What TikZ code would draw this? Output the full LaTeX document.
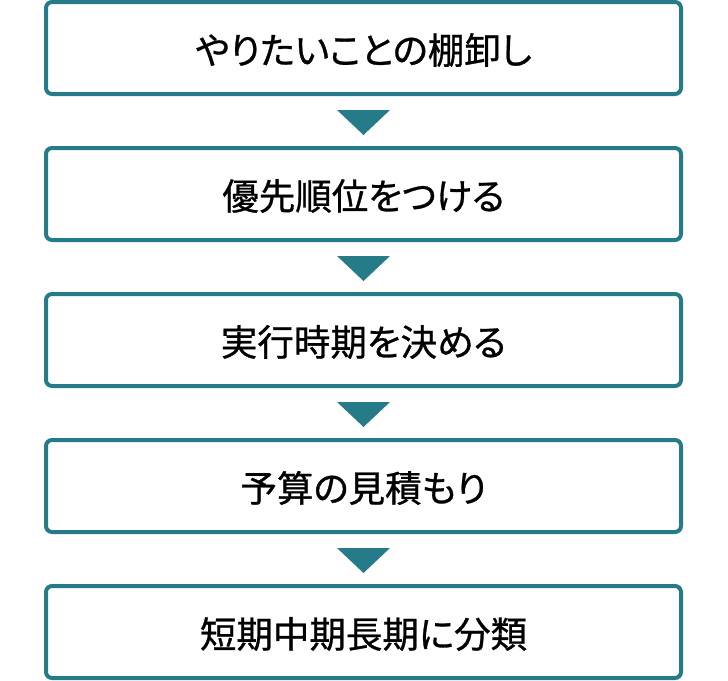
\documentclass[tikz,border=0pt]{standalone}
\usepackage{fontspec}
\usetikzlibrary{calc}
\newfontfamily\jpfont[RawFeature=+palt,FakeBold=0.8]{Noto Sans CJK JP}
\definecolor{teal1}{RGB}{38,123,137}
\tikzset{
  stepbox/.style={draw=teal1, line width=4pt, rounded corners=6pt, fill=white,
    minimum width=635pt, minimum height=92pt, inner sep=0pt},
  label/.style={font=\jpfont\fontsize{36.5pt}{42pt}\selectfont, text=black, inner sep=0pt, anchor=center},
  downtri/.style={fill=teal1}
}
\begin{document}
\begin{tikzpicture}[x=1pt,y=-1pt]
\useasboundingbox (0,0) rectangle (728,680);
\node[stepbox] (b1) at (363.5,48) {};
\node[stepbox] (b2) at (363.5,194) {};
\node[stepbox] (b3) at (363.5,340) {};
\node[stepbox] (b4) at (363.5,486) {};
\node[stepbox] (b5) at (363.5,632) {};
\node[label] (l1) at ([yshift=-2pt]b1.center) {やりたいことの棚卸し};
\node[label] (l2) at ([yshift=-2pt]b2.center) {優先順位をつける};
\node[label] (l3) at ([yshift=-2pt]b3.center) {実行時期を決める};
\node[label] (l4) at ([yshift=-2pt]b4.center) {予算の見積もり};
\node[label] (l5) at ([yshift=-2pt]b5.center) {短期中期長期に分類};
\foreach \a/\b [count=\i] in {b1/b2,b2/b3,b3/b4,b4/b5}{
  \coordinate (t\i) at ($(\a.south)!0.5!(\b.north)$);
}
\foreach \i in {1,2,3,4}{
  \fill[downtri] ([shift={(-26.5,-11)}]t\i) -- ([shift={(26.5,-11)}]t\i) -- ([shift={(0,14)}]t\i) -- cycle;
}
\end{tikzpicture}
\end{document}
